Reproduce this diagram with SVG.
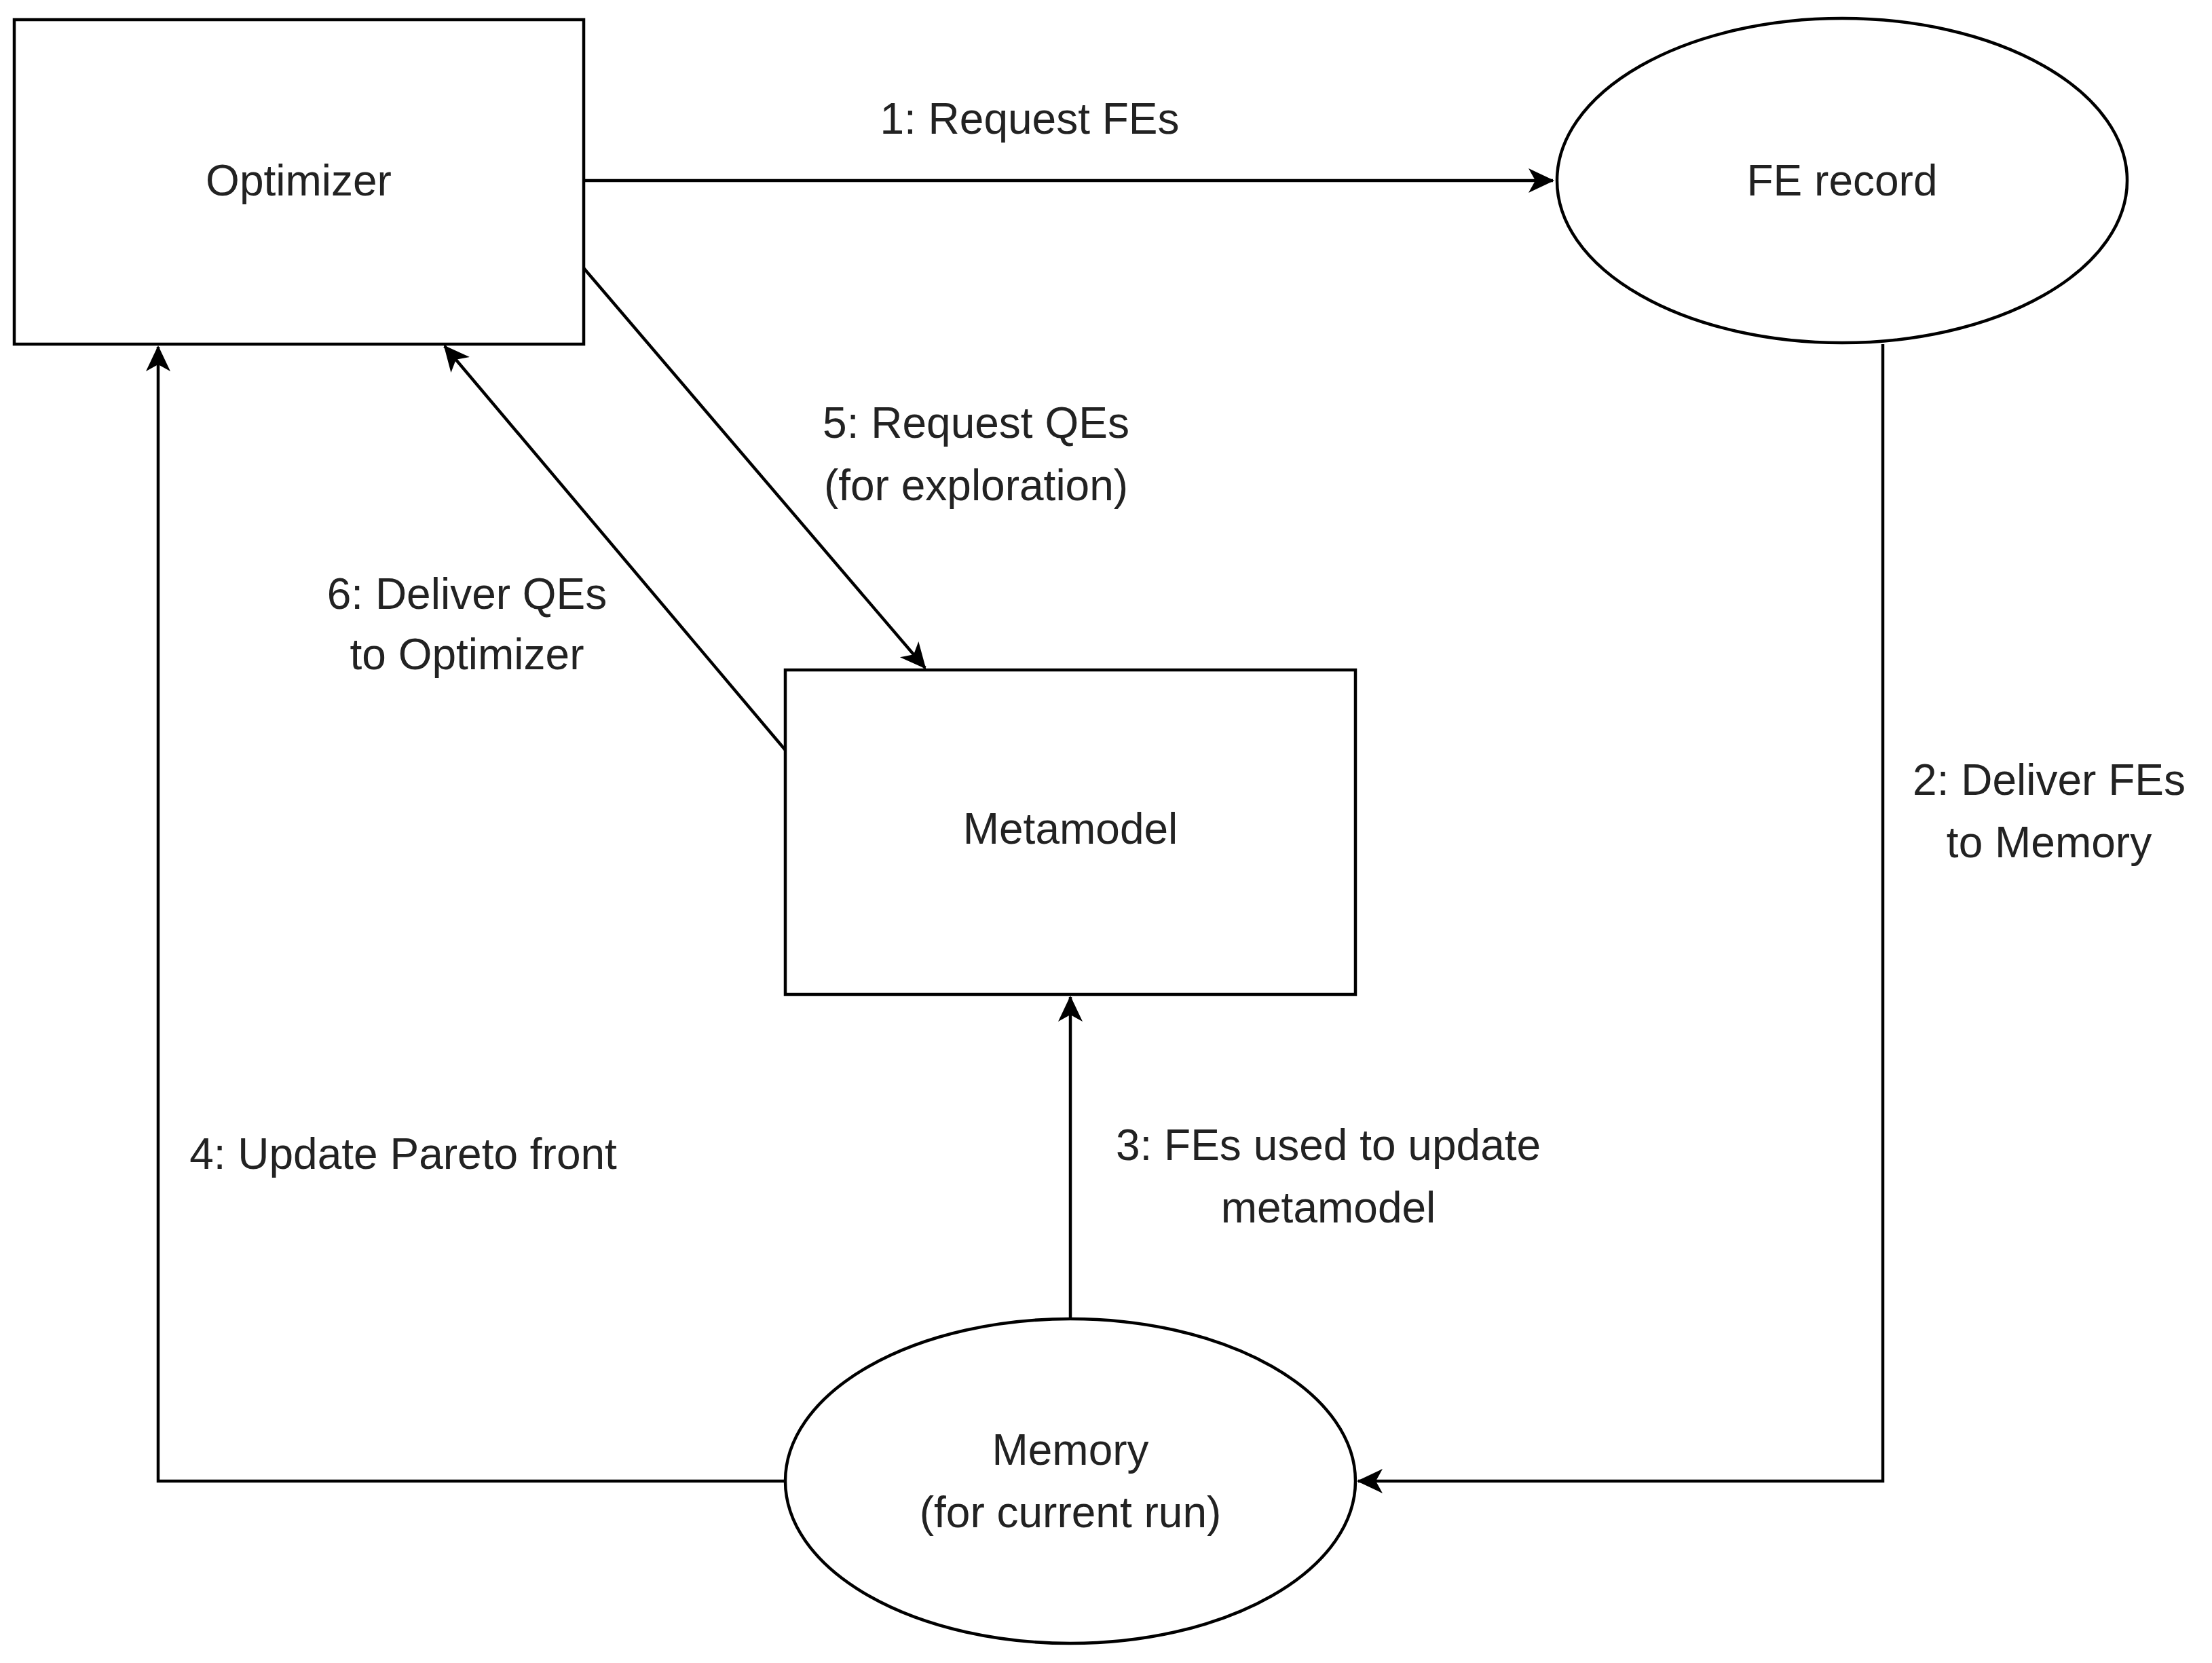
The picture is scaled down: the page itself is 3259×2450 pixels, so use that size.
<svg xmlns="http://www.w3.org/2000/svg" width="3259" height="2450" viewBox="0 0 3259 2450">
<style>
.n{fill:#fff;stroke:#000;stroke-width:4.5}
.c{fill:none;stroke:#000;stroke-width:4.5}
text{font-family:"Liberation Sans",Arial,sans-serif;font-size:64px;fill:#222;text-anchor:middle}
</style>
<defs>
<marker id="a" markerUnits="userSpaceOnUse" markerWidth="40" markerHeight="40" refX="36" refY="18" orient="auto" viewBox="0 0 40 36">
<path d="M0,0 L38,18 L0,36 L10,18 Z" fill="#000"/>
</marker>
</defs>
<rect width="3259" height="2450" fill="#fff"/>
<g id="connectors">
<path class="c" d="M860,266 L2288,266" marker-end="url(#a)"/>
<path class="c" d="M2774,507 L2774,2182 L2001,2182" marker-end="url(#a)" stroke="#333"/>
<path class="c" d="M1577,1943 L1577,1469" marker-end="url(#a)"/>
<path class="c" d="M1157,2182 L233,2182 L233,511" marker-end="url(#a)"/>
<path class="c" d="M860,395 L1363,984" marker-end="url(#a)"/>
<path class="c" d="M1157,1105 L655,510" marker-end="url(#a)"/>
<text x="1517" y="197">1: Request FEs</text>
<text x="3019" y="1171">2: Deliver FEs</text>
<text x="3019" y="1263">to Memory</text>
<text x="1957" y="1709">3: FEs used to update</text>
<text x="1957" y="1801">metamodel</text>
<text x="594" y="1722">4: Update Pareto front</text>
<text x="1438" y="645">5: Request QEs</text>
<text x="1438" y="737">(for exploration)</text>
<text x="688" y="897">6: Deliver QEs</text>
<text x="688" y="986">to Optimizer</text>
</g>
<g id="optimizer"><rect class="n" x="21" y="29" width="839" height="478"/><text x="440" y="288">Optimizer</text></g>
<g id="fe-record"><ellipse class="n" cx="2714" cy="266" rx="420" ry="239"/><text x="2714" y="288">FE record</text></g>
<g id="metamodel"><rect class="n" x="1157" y="987" width="840" height="478"/><text x="1577" y="1243">Metamodel</text></g>
<g id="memory"><ellipse class="n" cx="1577" cy="2182" rx="420" ry="239"/><text x="1577" y="2158">Memory</text><text x="1577" y="2250">(for current run)</text></g>
</svg>
